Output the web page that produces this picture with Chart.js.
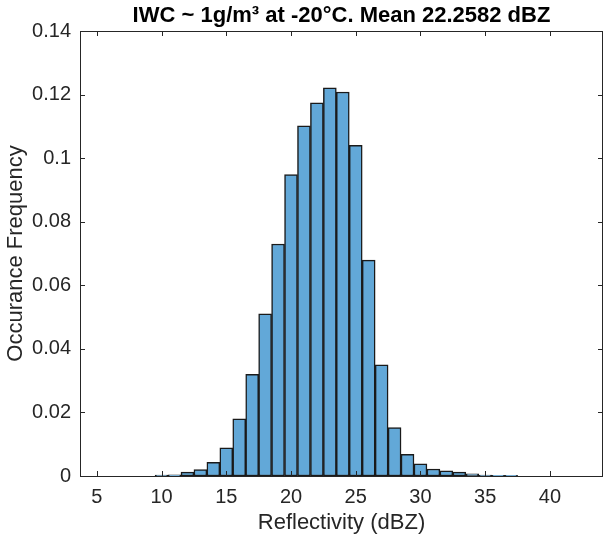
<!DOCTYPE html>
<html>
<head>
<meta charset="utf-8">
<script src="https://cdn.jsdelivr.net/npm/chart.js@4.4.1/dist/chart.umd.min.js"></script>
<style>
  html, body { margin: 0; padding: 0; background: #fff; }
  #wrap { width: 605px; height: 537px; }
</style>
</head>
<body>
<div id="wrap"><canvas id="histChart" width="605" height="537"></canvas></div>
<script>
// bin centres (dBZ), bin width 1
const binCenters = [10, 11, 12, 13, 14, 15, 16, 17, 18, 19, 20, 21, 22, 23,
                    24, 25, 26, 27, 28, 29, 30, 31, 32, 33, 34, 35, 36, 37];
// occurance frequency per bin
const frequency = [0.0003, 0.0004, 0.0012, 0.0020, 0.0043, 0.0089, 0.0180, 0.0320,
                   0.0510, 0.0730, 0.0948, 0.1102, 0.1174, 0.1221, 0.1208, 0.1040,
                   0.0679, 0.0350, 0.0152, 0.0068, 0.0038, 0.0022, 0.0016, 0.0012,
                   0.0007, 0.0003, 0.0002, 0.0002];
const xTickValues = [5, 10, 15, 20, 25, 30, 35, 40];
const yTickValues = [0, 0.02, 0.04, 0.06, 0.08, 0.1, 0.12, 0.14];
const yTickLabels = ['0', '0.02', '0.04', '0.06', '0.08', '0.1', '0.12', '0.14'];

const axisColor = '#262626';
const fontFamily = '"Liberation Sans", Arial, Helvetica, sans-serif';

// MATLAB style box with inward ticks on all four sides
const boxPlugin = {
    id: 'matlabBox',
    afterDatasetsDraw(chart) {
        const ctx = chart.ctx;
        const area = chart.chartArea;
        const xs = chart.scales.x;
        const ys = chart.scales.y;
        const tick = 5;
        ctx.save();
        ctx.strokeStyle = axisColor;
        ctx.lineWidth = 1;
        ctx.beginPath();
        xTickValues.forEach(v => {
            const px = Math.round(xs.getPixelForValue(v)) + 0.5;
            ctx.moveTo(px, area.bottom);
            ctx.lineTo(px, area.bottom - tick);
            ctx.moveTo(px, area.top);
            ctx.lineTo(px, area.top + tick);
        });
        yTickValues.forEach(v => {
            const py = Math.round(ys.getPixelForValue(v)) + 0.5;
            ctx.moveTo(area.left, py);
            ctx.lineTo(area.left + tick, py);
            ctx.moveTo(area.right, py);
            ctx.lineTo(area.right - tick, py);
        });
        ctx.stroke();
        ctx.strokeRect(Math.round(area.left) + 0.5, Math.round(area.top) + 0.5,
                       Math.round(area.right - area.left) - 1, Math.round(area.bottom - area.top));
        ctx.restore();
    }
};

const ctx = document.getElementById('histChart').getContext('2d');
new Chart(ctx, {
    type: 'bar',
    data: {
        datasets: [{
            label: 'Occurance Frequency',
            data: binCenters.map((b, i) => ({ x: b, y: frequency[i] })),
            backgroundColor: '#62a8d8',
            borderColor: '#1a1a1a',
            borderWidth: 1.5,
            borderSkipped: false,
            barPercentage: 1,
            categoryPercentage: 1
        }]
    },
    options: {
        responsive: false,
        animation: false,
        layout: { padding: { left: 0, right: 2, top: 0, bottom: 0 } },
        plugins: {
            legend: { display: false },
            tooltip: { enabled: false },
            title: {
                display: true,
                fullSize: false, // centre over the axes like MATLAB
                text: 'IWC ~ 1g/m³ at -20°C. Mean 22.2582 dBZ',
                color: '#000',
                font: { family: fontFamily, size: 22, weight: 'bold', lineHeight: 1.2 },
                padding: { top: 2.3, bottom: 2.3 }
            }
        },
        scales: {
            x: {
                type: 'linear',
                min: 3.7,
                max: 44.1,
                offset: false,
                afterBuildTicks: scale => {
                    scale.ticks = xTickValues.map(v => ({ value: v }));
                },
                afterFit: scale => { scale.height = 61; },
                grid: { display: false, drawTicks: false },
                border: { display: false },
                ticks: {
                    color: axisColor,
                    padding: 9.5,
                    maxRotation: 0,
                    autoSkip: false,
                    font: { family: fontFamily, size: 20 },
                    callback: v => String(v)
                },
                title: {
                    display: true,
                    text: 'Reflectivity (dBZ)',
                    color: axisColor,
                    font: { family: fontFamily, size: 22, lineHeight: 1.2 },
                    padding: { top: 0, bottom: 1 }
                }
            },
            y: {
                min: 0,
                max: 0.14,
                afterBuildTicks: scale => {
                    scale.ticks = yTickValues.map(v => ({ value: v }));
                },
                afterFit: scale => { scale.width = 80; },
                grid: { display: false, drawTicks: false },
                border: { display: false },
                ticks: {
                    color: axisColor,
                    padding: 9,
                    autoSkip: false,
                    font: { family: fontFamily, size: 20 },
                    callback: (v, i) => yTickLabels[i]
                },
                title: {
                    display: true,
                    text: 'Occurance Frequency',
                    color: axisColor,
                    font: { family: fontFamily, size: 22, lineHeight: 1.2 },
                    padding: { top: 2.3, bottom: 0 }
                }
            }
        }
    },
    plugins: [boxPlugin]
});
</script>
</body>
</html>
